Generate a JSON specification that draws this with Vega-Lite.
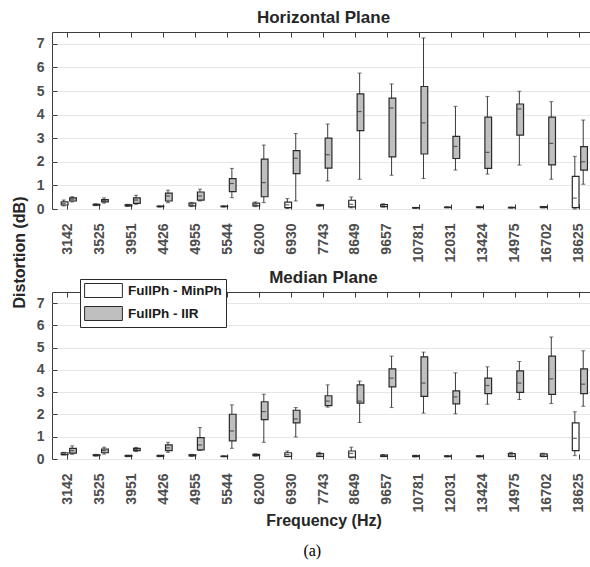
{
  "$schema": "https://vega.github.io/schema/vega-lite/v6.json",
  "padding": {"left": 10, "top": 8, "right": 0, "bottom": 5},
  "background": "white",
  "datasets": {
    "box": [
      {"p":"H","f":3142,"s":"FullPh - MinPh","lo":0.13,"q1":0.17,"md":0.23,"q3":0.30,"hi":0.38},
      {"p":"H","f":3142,"s":"FullPh - IIR","lo":0.30,"q1":0.34,"md":0.42,"q3":0.47,"hi":0.52},
      {"p":"H","f":3525,"s":"FullPh - MinPh","lo":0.14,"q1":0.16,"md":0.18,"q3":0.20,"hi":0.22},
      {"p":"H","f":3525,"s":"FullPh - IIR","lo":0.25,"q1":0.30,"md":0.35,"q3":0.40,"hi":0.47},
      {"p":"H","f":3951,"s":"FullPh - MinPh","lo":0.11,"q1":0.13,"md":0.15,"q3":0.18,"hi":0.20},
      {"p":"H","f":3951,"s":"FullPh - IIR","lo":0.20,"q1":0.24,"md":0.38,"q3":0.47,"hi":0.58},
      {"p":"H","f":4426,"s":"FullPh - MinPh","lo":0.08,"q1":0.10,"md":0.11,"q3":0.12,"hi":0.13},
      {"p":"H","f":4426,"s":"FullPh - IIR","lo":0.27,"q1":0.34,"md":0.55,"q3":0.67,"hi":0.80},
      {"p":"H","f":4955,"s":"FullPh - MinPh","lo":0.10,"q1":0.13,"md":0.18,"q3":0.25,"hi":0.28},
      {"p":"H","f":4955,"s":"FullPh - IIR","lo":0.34,"q1":0.38,"md":0.55,"q3":0.72,"hi":0.84},
      {"p":"H","f":5544,"s":"FullPh - MinPh","lo":0.08,"q1":0.10,"md":0.11,"q3":0.12,"hi":0.13},
      {"p":"H","f":5544,"s":"FullPh - IIR","lo":0.48,"q1":0.74,"md":1.08,"q3":1.29,"hi":1.72},
      {"p":"H","f":6200,"s":"FullPh - MinPh","lo":0.10,"q1":0.13,"md":0.18,"q3":0.25,"hi":0.30},
      {"p":"H","f":6200,"s":"FullPh - IIR","lo":0.27,"q1":0.52,"md":1.12,"q3":2.11,"hi":2.71},
      {"p":"H","f":6930,"s":"FullPh - MinPh","lo":0.02,"q1":0.06,"md":0.18,"q3":0.29,"hi":0.44},
      {"p":"H","f":6930,"s":"FullPh - IIR","lo":0.34,"q1":1.50,"md":2.15,"q3":2.47,"hi":3.20},
      {"p":"H","f":7743,"s":"FullPh - MinPh","lo":0.12,"q1":0.14,"md":0.16,"q3":0.18,"hi":0.20},
      {"p":"H","f":7743,"s":"FullPh - IIR","lo":1.19,"q1":1.73,"md":2.30,"q3":3.00,"hi":3.60},
      {"p":"H","f":8649,"s":"FullPh - MinPh","lo":0.05,"q1":0.09,"md":0.20,"q3":0.37,"hi":0.51},
      {"p":"H","f":8649,"s":"FullPh - IIR","lo":1.26,"q1":3.32,"md":4.13,"q3":4.88,"hi":5.76},
      {"p":"H","f":9657,"s":"FullPh - MinPh","lo":0.08,"q1":0.10,"md":0.14,"q3":0.19,"hi":0.22},
      {"p":"H","f":9657,"s":"FullPh - IIR","lo":1.43,"q1":2.21,"md":4.28,"q3":4.70,"hi":5.30},
      {"p":"H","f":10781,"s":"FullPh - MinPh","lo":0.03,"q1":0.04,"md":0.05,"q3":0.06,"hi":0.07},
      {"p":"H","f":10781,"s":"FullPh - IIR","lo":1.29,"q1":2.33,"md":3.65,"q3":5.19,"hi":7.25},
      {"p":"H","f":12031,"s":"FullPh - MinPh","lo":0.05,"q1":0.06,"md":0.07,"q3":0.08,"hi":0.09},
      {"p":"H","f":12031,"s":"FullPh - IIR","lo":1.65,"q1":2.14,"md":2.65,"q3":3.08,"hi":4.35},
      {"p":"H","f":13424,"s":"FullPh - MinPh","lo":0.05,"q1":0.06,"md":0.07,"q3":0.09,"hi":0.10},
      {"p":"H","f":13424,"s":"FullPh - IIR","lo":1.48,"q1":1.72,"md":2.40,"q3":3.89,"hi":4.77},
      {"p":"H","f":14975,"s":"FullPh - MinPh","lo":0.04,"q1":0.05,"md":0.06,"q3":0.07,"hi":0.08},
      {"p":"H","f":14975,"s":"FullPh - IIR","lo":1.86,"q1":3.13,"md":4.24,"q3":4.45,"hi":4.99},
      {"p":"H","f":16702,"s":"FullPh - MinPh","lo":0.05,"q1":0.06,"md":0.08,"q3":0.10,"hi":0.11},
      {"p":"H","f":16702,"s":"FullPh - IIR","lo":1.26,"q1":1.87,"md":2.78,"q3":3.89,"hi":4.55},
      {"p":"H","f":18625,"s":"FullPh - MinPh","lo":0.00,"q1":0.06,"md":0.46,"q3":1.38,"hi":2.23},
      {"p":"H","f":18625,"s":"FullPh - IIR","lo":1.05,"q1":1.65,"md":2.00,"q3":2.64,"hi":3.77},
      {"p":"M","f":3142,"s":"FullPh - MinPh","lo":0.18,"q1":0.20,"md":0.24,"q3":0.28,"hi":0.30},
      {"p":"M","f":3142,"s":"FullPh - IIR","lo":0.21,"q1":0.26,"md":0.38,"q3":0.48,"hi":0.59},
      {"p":"M","f":3525,"s":"FullPh - MinPh","lo":0.13,"q1":0.15,"md":0.17,"q3":0.19,"hi":0.21},
      {"p":"M","f":3525,"s":"FullPh - IIR","lo":0.22,"q1":0.28,"md":0.38,"q3":0.45,"hi":0.53},
      {"p":"M","f":3951,"s":"FullPh - MinPh","lo":0.10,"q1":0.12,"md":0.14,"q3":0.16,"hi":0.17},
      {"p":"M","f":3951,"s":"FullPh - IIR","lo":0.33,"q1":0.38,"md":0.43,"q3":0.48,"hi":0.52},
      {"p":"M","f":4426,"s":"FullPh - MinPh","lo":0.10,"q1":0.12,"md":0.14,"q3":0.16,"hi":0.17},
      {"p":"M","f":4426,"s":"FullPh - IIR","lo":0.30,"q1":0.38,"md":0.50,"q3":0.63,"hi":0.75},
      {"p":"M","f":4955,"s":"FullPh - MinPh","lo":0.12,"q1":0.14,"md":0.16,"q3":0.19,"hi":0.21},
      {"p":"M","f":4955,"s":"FullPh - IIR","lo":0.38,"q1":0.41,"md":0.63,"q3":0.96,"hi":1.41},
      {"p":"M","f":5544,"s":"FullPh - MinPh","lo":0.10,"q1":0.11,"md":0.12,"q3":0.13,"hi":0.14},
      {"p":"M","f":5544,"s":"FullPh - IIR","lo":0.48,"q1":0.81,"md":1.26,"q3":2.01,"hi":2.43},
      {"p":"M","f":6200,"s":"FullPh - MinPh","lo":0.13,"q1":0.15,"md":0.18,"q3":0.21,"hi":0.23},
      {"p":"M","f":6200,"s":"FullPh - IIR","lo":0.75,"q1":1.77,"md":2.13,"q3":2.57,"hi":2.91},
      {"p":"M","f":6930,"s":"FullPh - MinPh","lo":0.10,"q1":0.12,"md":0.20,"q3":0.28,"hi":0.36},
      {"p":"M","f":6930,"s":"FullPh - IIR","lo":0.99,"q1":1.62,"md":1.80,"q3":2.19,"hi":2.31},
      {"p":"M","f":7743,"s":"FullPh - MinPh","lo":0.10,"q1":0.12,"md":0.18,"q3":0.24,"hi":0.30},
      {"p":"M","f":7743,"s":"FullPh - IIR","lo":2.33,"q1":2.40,"md":2.60,"q3":2.84,"hi":3.33},
      {"p":"M","f":8649,"s":"FullPh - MinPh","lo":0.05,"q1":0.08,"md":0.25,"q3":0.36,"hi":0.53},
      {"p":"M","f":8649,"s":"FullPh - IIR","lo":1.64,"q1":2.51,"md":2.60,"q3":3.33,"hi":3.50},
      {"p":"M","f":9657,"s":"FullPh - MinPh","lo":0.10,"q1":0.12,"md":0.15,"q3":0.18,"hi":0.20},
      {"p":"M","f":9657,"s":"FullPh - IIR","lo":2.31,"q1":3.24,"md":3.63,"q3":4.05,"hi":4.62},
      {"p":"M","f":10781,"s":"FullPh - MinPh","lo":0.09,"q1":0.11,"md":0.13,"q3":0.15,"hi":0.17},
      {"p":"M","f":10781,"s":"FullPh - IIR","lo":2.06,"q1":2.81,"md":3.41,"q3":4.59,"hi":4.80},
      {"p":"M","f":12031,"s":"FullPh - MinPh","lo":0.09,"q1":0.11,"md":0.12,"q3":0.14,"hi":0.15},
      {"p":"M","f":12031,"s":"FullPh - IIR","lo":2.03,"q1":2.48,"md":2.79,"q3":3.06,"hi":3.87},
      {"p":"M","f":13424,"s":"FullPh - MinPh","lo":0.09,"q1":0.11,"md":0.12,"q3":0.14,"hi":0.15},
      {"p":"M","f":13424,"s":"FullPh - IIR","lo":2.46,"q1":2.94,"md":3.30,"q3":3.63,"hi":4.14},
      {"p":"M","f":14975,"s":"FullPh - MinPh","lo":0.10,"q1":0.12,"md":0.18,"q3":0.24,"hi":0.30},
      {"p":"M","f":14975,"s":"FullPh - IIR","lo":2.67,"q1":2.99,"md":3.41,"q3":3.96,"hi":4.38},
      {"p":"M","f":16702,"s":"FullPh - MinPh","lo":0.10,"q1":0.12,"md":0.17,"q3":0.23,"hi":0.26},
      {"p":"M","f":16702,"s":"FullPh - IIR","lo":2.49,"q1":2.90,"md":3.60,"q3":4.62,"hi":5.48},
      {"p":"M","f":18625,"s":"FullPh - MinPh","lo":0.15,"q1":0.38,"md":0.93,"q3":1.62,"hi":2.12},
      {"p":"M","f":18625,"s":"FullPh - IIR","lo":2.37,"q1":2.94,"md":3.36,"q3":4.05,"hi":4.86}
    ]
  },
  "data": {"name": "box"},
  "title": {"text": "(a)", "orient": "bottom", "font": "Liberation Serif", "fontSize": 16, "fontWeight": "normal", "color": "#000000", "offset": 14, "anchor": "middle", "dx": 9},
  "bounds": "flush",
  "spacing": 83,
  "resolve": {"legend": {"fill": "independent"}},
  "vconcat": [
    {
      "title": {"text": "Horizontal Plane"},
      "width": 543,
      "height": 177,
      "transform": [{"filter": "datum.p === 'H'"}],
      "resolve": {"axis": {"x": "independent", "y": "independent"}},
      "layer": [
        {
          "mark": {"type": "rule", "color": "#3a3a3a", "strokeWidth": 1},
          "encoding": {
            "x": {"field": "f", "type": "ordinal", "scale": {"paddingInner": 0.474, "paddingOuter": 0.237}, "axis": {"title": null, "labelAngle": 270, "tickSize": -5, "labelPadding": 19, "domain": false}},
            "xOffset": {"field": "s", "type": "nominal", "scale": {"domain": ["FullPh - MinPh", "FullPh - IIR"]}},
            "y": {"field": "lo", "type": "quantitative", "scale": {"domain": [0, 7.5], "nice": false}, "axis": {"values": [0,1,2,3,4,5,6,7], "title": "Distortion (dB)", "titleX": -25, "titleY": 220, "titleAlign": "center", "titleBaseline": "bottom", "titleAngle": 270, "grid": true, "tickSize": -5, "labelPadding": 13, "domain": false}},
            "y2": {"field": "hi"}
          }
        },
        {
          "mark": {"type": "tick", "color": "#3a3a3a", "size": 4, "thickness": 1},
          "encoding": {
            "x": {"field": "f", "type": "ordinal", "axis": {"orient": "top", "labels": false, "title": null, "tickSize": -5, "domain": false}},
            "xOffset": {"field": "s", "type": "nominal"},
            "y": {"field": "lo", "type": "quantitative", "axis": {"orient": "right", "labels": false, "title": null, "grid": false, "values": [0,1,2,3,4,5,6,7], "tickSize": -5, "domain": false}}
          }
        },
        {
          "mark": {"type": "tick", "color": "#3a3a3a", "size": 4, "thickness": 1},
          "encoding": {
            "x": {"field": "f", "type": "ordinal", "axis": null},
            "xOffset": {"field": "s", "type": "nominal"},
            "y": {"field": "hi", "type": "quantitative", "axis": null}
          }
        },
        {
          "mark": {"type": "bar", "stroke": "#2b2b2b", "strokeWidth": 1.2, "width": {"band": 0.8}},
          "encoding": {
            "x": {"field": "f", "type": "ordinal", "axis": null},
            "xOffset": {"field": "s", "type": "nominal"},
            "y": {"field": "q1", "type": "quantitative", "axis": null},
            "y2": {"field": "q3"},
            "fill": {"field": "s", "type": "nominal", "scale": {"domain": ["FullPh - MinPh", "FullPh - IIR"], "range": ["#ffffff", "#bfbfbf"]}, "legend": null}
          }
        },
        {
          "mark": {"type": "tick", "color": "#2b2b2b", "size": 4, "thickness": 1.2},
          "encoding": {
            "x": {"field": "f", "type": "ordinal", "axis": null},
            "xOffset": {"field": "s", "type": "nominal"},
            "y": {"field": "md", "type": "quantitative", "axis": null}
          }
        }
      ]
    },
    {
      "title": {"text": "Median Plane", "offset": -8},
      "width": 543,
      "height": 167,
      "transform": [{"filter": "datum.p === 'M'"}],
      "resolve": {"axis": {"x": "independent", "y": "independent"}},
      "layer": [
        {
          "mark": {"type": "rule", "color": "#3a3a3a", "strokeWidth": 1},
          "encoding": {
            "x": {"field": "f", "type": "ordinal", "scale": {"paddingInner": 0.474, "paddingOuter": 0.237}, "axis": {"title": "Frequency (Hz)", "titlePadding": 1, "labelAngle": 270, "tickSize": -5, "labelPadding": 19, "domain": false}},
            "xOffset": {"field": "s", "type": "nominal", "scale": {"domain": ["FullPh - MinPh", "FullPh - IIR"]}},
            "y": {"field": "lo", "type": "quantitative", "scale": {"domain": [0, 7.5], "nice": false}, "axis": {"values": [0,1,2,3,4,5,6,7], "title": null, "grid": true, "tickSize": -5, "labelPadding": 13, "domain": false}},
            "y2": {"field": "hi"}
          }
        },
        {
          "mark": {"type": "tick", "color": "#3a3a3a", "size": 4, "thickness": 1},
          "encoding": {
            "x": {"field": "f", "type": "ordinal", "axis": {"orient": "top", "labels": false, "title": null, "tickSize": -5, "domain": false}},
            "xOffset": {"field": "s", "type": "nominal"},
            "y": {"field": "lo", "type": "quantitative", "axis": {"orient": "right", "labels": false, "title": null, "grid": false, "values": [0,1,2,3,4,5,6,7], "tickSize": -5, "domain": false}}
          }
        },
        {
          "mark": {"type": "tick", "color": "#3a3a3a", "size": 4, "thickness": 1},
          "encoding": {
            "x": {"field": "f", "type": "ordinal", "axis": null},
            "xOffset": {"field": "s", "type": "nominal"},
            "y": {"field": "hi", "type": "quantitative", "axis": null}
          }
        },
        {
          "mark": {"type": "bar", "stroke": "#2b2b2b", "strokeWidth": 1.2, "width": {"band": 0.8}},
          "encoding": {
            "x": {"field": "f", "type": "ordinal", "axis": null},
            "xOffset": {"field": "s", "type": "nominal"},
            "y": {"field": "q1", "type": "quantitative", "axis": null},
            "y2": {"field": "q3"},
            "fill": {"field": "s", "type": "nominal", "scale": {"domain": ["FullPh - MinPh", "FullPh - IIR"], "range": ["#ffffff", "#bfbfbf"]},
              "legend": {"orient": "none", "legendX": 28, "legendY": -13, "title": null, "direction": "vertical", "symbolType": "M-2.7,-1H2.7V1H-2.7Z", "symbolSize": 196, "symbolOffset": 12, "symbolStrokeColor": "#2b2b2b", "symbolStrokeWidth": 1, "labelFontSize": 13.5, "labelFontWeight": "bold", "labelColor": "#1a1a1a", "labelFont": "Liberation Sans", "strokeColor": "#2b2b2b", "fillColor": "white", "padding": 4, "rowPadding": 4, "labelOffset": 17, "cornerRadius": 0}}
          }
        },
        {
          "mark": {"type": "tick", "color": "#2b2b2b", "size": 4, "thickness": 1.2},
          "encoding": {
            "x": {"field": "f", "type": "ordinal", "axis": null},
            "xOffset": {"field": "s", "type": "nominal"},
            "y": {"field": "md", "type": "quantitative", "axis": null}
          }
        }
      ]
    }
  ],
  "config": {
    "font": "Liberation Sans",
    "view": {"stroke": "#3c3c3c", "strokeWidth": 1},
    "axis": {"labelFont": "Liberation Sans", "labelFontWeight": "bold", "labelFontSize": 14, "labelColor": "#4d4d4d", "tickColor": "#3c3c3c", "gridColor": "#e6e6e6", "titleFont": "Liberation Sans", "titleFontSize": 16, "titleFontWeight": "bold", "titleColor": "#262626"},
    "title": {"font": "Liberation Sans", "fontSize": 17, "fontWeight": "bold", "color": "#262626", "offset": 5},
    "legend": {"labelFontSize": 13.5}
  }
}
